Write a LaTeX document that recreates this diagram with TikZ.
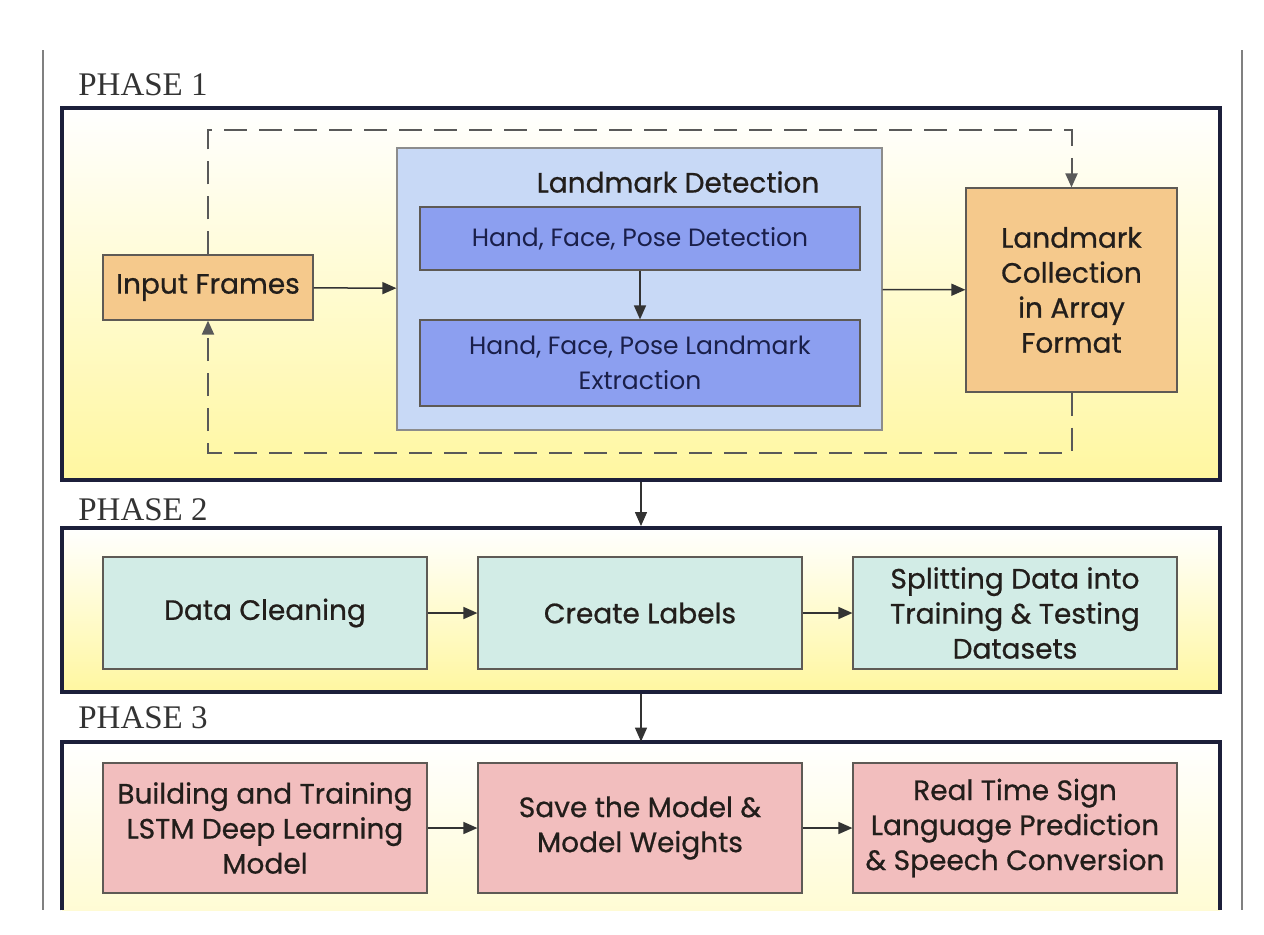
\documentclass[tikz,border=0pt]{standalone}
\usepackage{fontspec}
\setmainfont{Liberation Serif}
\newfontfamily\boxfont{Poppins}
\newfontfamily\medfont{Poppins}[FakeBold=0.7]
\usetikzlibrary{arrows.meta}
\definecolor{navy}{HTML}{1C1F3A}
\definecolor{phaseylw}{HTML}{FFF7A0}
\definecolor{orfill}{HTML}{F5C98C}
\definecolor{ldfill}{HTML}{C8D9F6}
\definecolor{hfill}{HTML}{8C9FF0}
\definecolor{tealfill}{HTML}{D2ECE6}
\definecolor{pinkfill}{HTML}{F2BEBE}
\definecolor{edgegray}{HTML}{5E5A55}
\definecolor{txtdark}{HTML}{221E1B}
\definecolor{txtblue}{HTML}{1A1F4A}
\tikzstyle{phase}=[fill=white,top color=white,bottom color=phaseylw,minimum width=579pt,inner sep=0pt]
\tikzstyle{phaseline}=[draw=navy,line width=2pt]
\tikzstyle{phasename}=[anchor=base west,inner sep=0pt,text=black!80,font=\fontsize{16.5}{20}\selectfont]
\tikzstyle{blk}=[draw=edgegray,line width=.6pt,align=center,inner sep=0pt,text=txtdark,font=\medfont\fontsize{14}{17.5}\selectfont]
\tikzstyle{orbox}=[blk,fill=orfill]
\tikzstyle{hbox}=[blk,fill=hfill,text=txtblue,minimum width=220pt,font=\boxfont\fontsize{12.5}{17.5}\selectfont]
\tikzstyle{tealbox}=[blk,fill=tealfill,minimum width=162pt,minimum height=56pt]
\tikzstyle{pinkbox}=[blk,fill=pinkfill,minimum width=162pt,minimum height=65pt]
\tikzstyle{rw}=[line width=.75pt,draw=black!80,-{Triangle[length=7pt,width=6pt]}]
\tikzstyle{loopline}=[rw,line width=1pt,draw=black!65,dash pattern=on 11.5pt off 6pt]
\begin{document}
\begin{tikzpicture}[x=0.5pt,y=-0.5pt]
	\useasboundingbox (0,0) rectangle (1264,934);
	% side rules
	\draw[black!50,line width=1pt] (43,50) -- (43,910) (1242,50) -- (1242,910);
	% phase frames
	\node[phase,phaseline,minimum height=186pt] (p1) at (641,294) {};
	\node[phase,phaseline,minimum height=82pt] (p2) at (641,610) {};
	\node[phase,bottom color=phaseylw!45,minimum height=84pt] (p3) at (641,826) {};
	\draw[phaseline] (p3.south west) -- (p3.north west) -- (p3.north east) -- (p3.south east);
	\node[phasename] (n1) at (78,95) {PHASE 1};
	\node[phasename] (n2) at (78,520) {PHASE 2};
	\node[phasename] (n3) at (78,728) {PHASE 3};
	% phase 1
	\node[orbox,minimum width=105pt,minimum height=32.5pt] (inp) at (208,287.5) {Input Frames};
	\node[blk,fill=ldfill,draw=black!45,minimum width=242.5pt,minimum height=141pt] (ld) at (639.5,289) {};
	\node[blk,draw=none] (ldt) at (678,182) {Landmark Detection};
	\node[hbox,minimum height=31.5pt] (hfd) at (640,238.5) {Hand, Face, Pose Detection};
	\node[hbox,minimum height=43pt] (hfe) at (640,363) {Hand, Face, Pose Landmark\\Extraction};
	\node[orbox,minimum width=105.5pt,minimum height=102pt] (lc) at (1071.5,290) {Landmark\\Collection\\in Array\\Format};
	\draw[rw] (inp) -- (ld);
	\draw[rw] (hfd) -- (hfe);
	\draw[rw] (ld) -- (lc);
	\draw[loopline] (inp.north) -- ++(0,-124) -| (lc.north);
	\draw[loopline] (lc.south) -- ++(0,60) -| (inp.south);
	% phase 2
	\node[tealbox] (dc) at (265,613) {Data Cleaning};
	\node[tealbox] (cl) at (640,613) {Create Labels};
	\node[tealbox] (sp) at (1015,613) {Splitting Data into\\Training \& Testing\\Datasets};
	\draw[rw] (dc) -- (cl);
	\draw[rw] (cl) -- (sp);
	% phase 3
	\node[pinkbox] (bt) at (265,828) {Building and Training\\LSTM Deep Learning\\Model};
	\node[pinkbox] (sm) at (640,828) {Save the Model \&\\Model Weights};
	\node[pinkbox] (rt) at (1015,828) {Real Time Sign\\Language Prediction\\\& Speech Conversion};
	\draw[rw] (bt) -- (sm);
	\draw[rw] (sm) -- (rt);
	% between phases
	\draw[rw] (p1.south) -- (p2.north);
	\draw[rw] (p2.south) -- (p3.north);
\end{tikzpicture}
\end{document}
